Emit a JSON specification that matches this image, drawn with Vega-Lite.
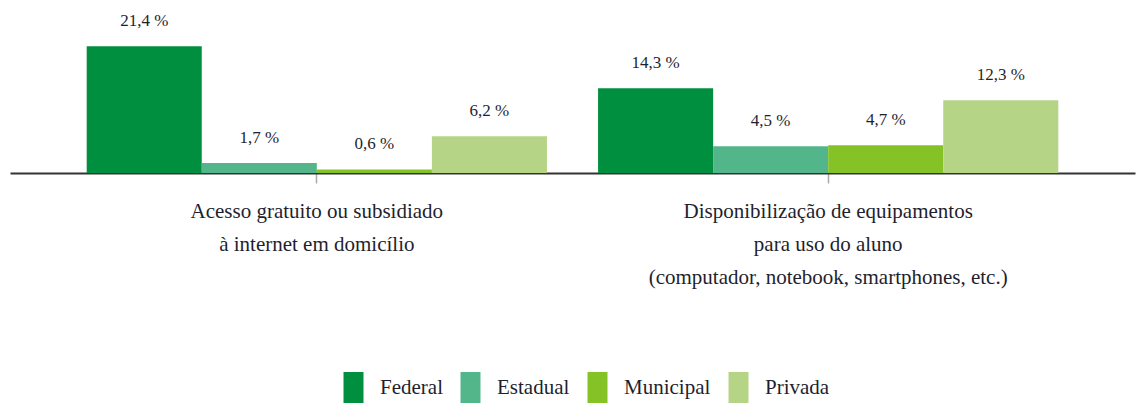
{
  "$schema": "https://vega.github.io/schema/vega-lite/v6.json",
  "width": 1125,
  "height": 148,
  "autosize": {"type": "none"},
  "padding": {"left": 10, "top": 25, "right": 1, "bottom": 232},
  "background": "white",
  "data": {
    "values": [
      {"cat": "Acesso gratuito ou subsidiado|à internet em domicílio", "rede": "Federal", "v": 21.4},
      {"cat": "Acesso gratuito ou subsidiado|à internet em domicílio", "rede": "Estadual", "v": 1.7},
      {"cat": "Acesso gratuito ou subsidiado|à internet em domicílio", "rede": "Municipal", "v": 0.6},
      {"cat": "Acesso gratuito ou subsidiado|à internet em domicílio", "rede": "Privada", "v": 6.2},
      {"cat": "Disponibilização de equipamentos|para uso do aluno|(computador, notebook, smartphones, etc.)", "rede": "Federal", "v": 14.3},
      {"cat": "Disponibilização de equipamentos|para uso do aluno|(computador, notebook, smartphones, etc.)", "rede": "Estadual", "v": 4.5},
      {"cat": "Disponibilização de equipamentos|para uso do aluno|(computador, notebook, smartphones, etc.)", "rede": "Municipal", "v": 4.7},
      {"cat": "Disponibilização de equipamentos|para uso do aluno|(computador, notebook, smartphones, etc.)", "rede": "Privada", "v": 12.3}
    ]
  },
  "transform": [
    {"calculate": "replace(format(datum.v, '.1f'), '.', ',') + ' %'", "as": "lbl"}
  ],
  "encoding": {
    "x": {
      "field": "cat",
      "type": "nominal",
      "sort": null,
      "scale": {"paddingInner": 0.1, "paddingOuter": 0.15},
      "axis": {
        "title": null,
        "labelAngle": 0,
        "labelExpr": "split(datum.label, '|')",
        "labelFont": "Liberation Serif, DejaVu Serif, serif",
        "labelFontSize": 21,
        "labelLineHeight": 33,
        "labelColor": "#1f1f2e",
        "labelPadding": 17,
        "labelLimit": 0,
        "domainColor": "#333333",
        "domainWidth": 2,
        "tickColor": "#aaaaaa",
        "tickSize": 10,
        "tickWidth": 1.5
      }
    },
    "xOffset": {
      "field": "rede",
      "type": "nominal",
      "sort": ["Federal", "Estadual", "Municipal", "Privada"],
      "scale": {"paddingInner": 0, "paddingOuter": 0}
    },
    "y": {
      "field": "v",
      "type": "quantitative",
      "scale": {"domain": [0, 25], "nice": false},
      "axis": null
    }
  },
  "layer": [
    {
      "mark": {"type": "bar"},
      "encoding": {
        "color": {
          "field": "rede",
          "type": "nominal",
          "sort": ["Federal", "Estadual", "Municipal", "Privada"],
          "scale": {
            "domain": ["Federal", "Estadual", "Municipal", "Privada"],
            "range": ["#008f3e", "#53b68a", "#84c226", "#b6d485"]
          },
          "legend": {
            "title": null,
            "orient": "none",
            "direction": "horizontal",
            "legendX": 328,
            "legendY": 347,
            "padding": 0,
            "symbolType": "M-0.645,-1H0.645V1H-0.645Z",
            "symbolSize": 961,
            "symbolStrokeWidth": 0,
            "symbolOpacity": 1,
            "labelFont": "Liberation Serif, DejaVu Serif, serif",
            "labelFontSize": 21,
            "labelColor": "#1f1f2e",
            "labelOffset": 11,
            "columnPadding": 12,
            "labelLimit": 0
          }
        }
      }
    },
    {
      "mark": {
        "type": "text",
        "font": "Liberation Serif, DejaVu Serif, serif",
        "fontSize": 17,
        "color": "#1f1f2e",
        "baseline": "alphabetic",
        "dy": -20
      },
      "encoding": {
        "text": {"field": "lbl"}
      }
    }
  ],
  "config": {
    "view": {"stroke": null}
  }
}
